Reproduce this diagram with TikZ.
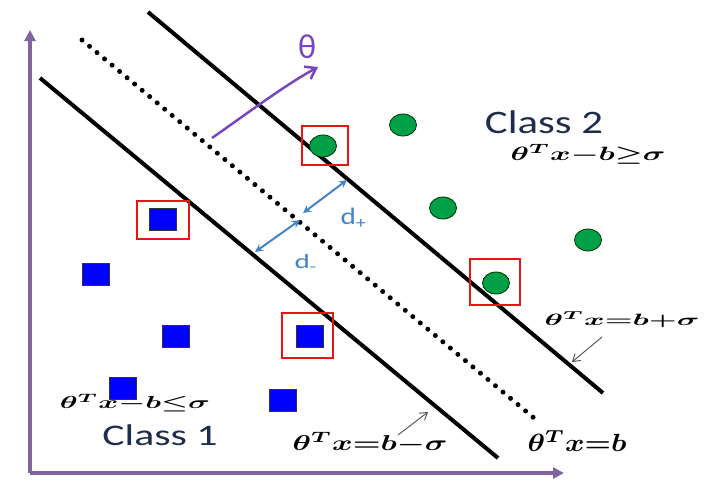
\documentclass[tikz,border=0pt]{standalone}
\usepackage{fontspec}
\usepackage{bm}
\usepackage{graphicx}
\usetikzlibrary{arrows.meta,shapes.geometric}
\newfontfamily\calib{Carlito}
\definecolor{axispurple}{RGB}{128,100,162}
\definecolor{thetapurple}{RGB}{120,70,190}
\definecolor{ptgreen}{RGB}{0,160,70}
\definecolor{ptblue}{RGB}{0,0,255}
\definecolor{darrow}{RGB}{70,130,200}
\definecolor{classtext}{RGB}{30,45,75}
\definecolor{boxred}{RGB}{235,20,20}
\tikzset{
  axisline/.style={axispurple,line width=4pt,-{Triangle[length=11pt,width=11pt]}},
  sepline/.style={black,line width=4pt},
  dotline/.style={black,line width=5pt,line cap=round,dash pattern=on 0pt off 9.8pt},
  sqpt/.style={rectangle,draw=black!80,line width=0.8pt,fill=ptblue,minimum width=27pt,minimum height=22pt,inner sep=0pt},
  circpt/.style={ellipse,draw=black!80!green,line width=0.8pt,fill=ptgreen,minimum width=27pt,minimum height=22pt,inner sep=0pt},
  svbox/.style={rectangle,draw=boxred,line width=2pt,inner sep=0pt},
  darr/.style={darrow,line width=2pt,{Stealth[length=8pt,width=8pt]}-{Stealth[length=8pt,width=8pt]}},
  garr/.style={black!70,line width=0.9pt,-{Straight Barb[length=7pt,width=9pt]}},
  eqlab/.style={inner sep=0pt},
  classlab/.style={inner sep=0pt,text=classtext},
  dlab/.style={inner sep=0pt,text=darrow}
}
\begin{document}
\begin{tikzpicture}[x=1pt,y=-1pt]
\useasboundingbox (0,0) rectangle (706,480);
% axes
\coordinate (orig) at (30,473);
\coordinate (ytip) at (30,30);
\coordinate (xtip) at (564,473);
\draw[axisline] (orig) -- (ytip);
\draw[axisline] (orig) -- (xtip);
% separating lines
\coordinate (l1a) at (40,78);   \coordinate (l1b) at (498,458);
\coordinate (l0a) at (82,40);   \coordinate (l0b) at (540,423);
\coordinate (l2a) at (148,12);  \coordinate (l2b) at (603,393);
\draw[sepline] (l1a) -- (l1b);
\draw[dotline] (l0a) -- (l0b);
\draw[sepline] (l2a) -- (l2b);
% theta arrow
\coordinate (ta) at (212,138);
\coordinate (tb) at (318,67);
\draw[thetapurple,line width=2.5pt,-{Straight Barb[length=10pt,width=14pt]}] (ta) .. controls (245,115) and (285,85) .. (tb);
\node[inner sep=0pt,text=thetapurple] (thlab) at (307,47) {\resizebox*{18pt}{24pt}{\calib θ}};
% green points
\node[circpt] (g1) at (323,146) {};
\node[circpt] (g2) at (403,125) {};
\node[circpt] (g3) at (443,208) {};
\node[circpt] (g4) at (588,240) {};
\node[circpt] (g5) at (496,283) {};
% blue points
\node[sqpt] (s1) at (163,219) {};
\node[sqpt] (s2) at (96,274) {};
\node[sqpt] (s3) at (176,336) {};
\node[sqpt] (s4) at (310,336) {};
\node[sqpt] (s5) at (123,388) {};
\node[sqpt] (s6) at (283,400) {};
% support vector boxes
\node[svbox,minimum width=46pt,minimum height=39pt] (b1) at (325,145.5) {};
\node[svbox,minimum width=50pt,minimum height=46pt] (b2) at (495,282) {};
\node[svbox,minimum width=52pt,minimum height=38pt] (b3) at (163,220) {};
\node[svbox,minimum width=51pt,minimum height=45pt] (b4) at (307.5,335.5) {};
% margin arrows
\coordinate (dp1) at (303,213); \coordinate (dp2) at (347,180);
\coordinate (dm1) at (255,252); \coordinate (dm2) at (300,220);
\draw[darr] (dp1) -- (dp2);
\draw[darr] (dm1) -- (dm2);
\node[dlab] (dplus) at (354,218) {\resizebox*{27pt}{20pt}{\calib d\textsubscript{+}}};
\node[dlab] (dminus) at (306,263) {\resizebox*{23pt}{17pt}{\calib d\textsubscript{-}}};
% class labels
\node[classlab] (c2) at (544,122) {\resizebox*{118pt}{23pt}{\calib Class 2}};
\node[classlab] (c1) at (160,435) {\resizebox*{115pt}{21pt}{\calib Class 1}};
% equations
\node[eqlab] (e1) at (588,154) {\resizebox*{155pt}{20pt}{$\bm{\theta^{T}x{-}b{\geq}\sigma}$}};
\node[eqlab] (e2) at (622,320) {\resizebox*{155pt}{16pt}{$\bm{\theta^{T}x{=}b{+}\sigma}$}};
\node[eqlab] (e3) at (135,403) {\resizebox*{150pt}{18pt}{$\bm{\theta^{T}x{-}b{\leq}\sigma}$}};
\node[eqlab] (e4) at (370,443) {\resizebox*{155pt}{21pt}{$\bm{\theta^{T}x{=}b{-}\sigma}$}};
\node[eqlab] (e5) at (577,441) {\resizebox*{99pt}{21pt}{$\bm{\theta^{T}x{=}b}$}};
% pointer arrows
\coordinate (pa1) at (602,337); \coordinate (pa2) at (572,362);
\coordinate (pb1) at (398,435); \coordinate (pb2) at (428,412);
\draw[garr] (pa1) -- (pa2);
\draw[garr] (pb1) -- (pb2);
\end{tikzpicture}
\end{document}
